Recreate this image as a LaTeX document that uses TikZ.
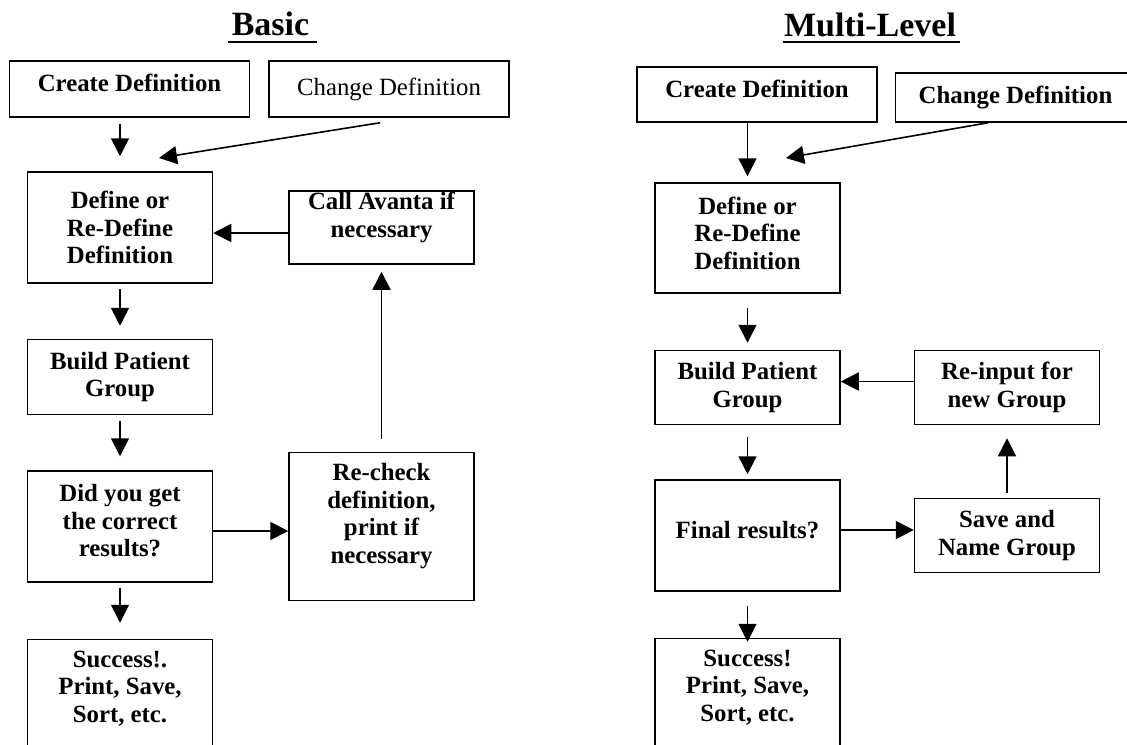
\documentclass[tikz,border=0pt]{standalone}
\usepackage{fontspec}
\setmainfont{Liberation Serif}
\usetikzlibrary{arrows.meta,positioning}
\newcommand{\padb}[1]{\rule[-#1]{0pt}{#1}}

\begin{document}
\begin{tikzpicture}[x=0.5pt, y=-0.5pt,
  node distance=27.5pt and 37.5pt,
  every node/.style={font=\fontsize{12.4}{13.8}\selectfont\bfseries},
  topbox/.style={draw, line width=0.75pt, minimum width=120pt,
    minimum height=28pt, inner xsep=2pt, inner ysep=0pt, align=center},
  stepbox/.style={draw, line width=0.75pt, minimum width=92.5pt,
    inner xsep=2pt, inner ysep=0pt, align=center},
  ttl/.style={font=\fontsize{17}{20}\selectfont\bfseries, inner sep=0pt, anchor=base},
  arr/.style={-{Triangle[length=9pt,width=9pt]}, line width=0.8pt}]
\useasboundingbox (0,0) rectangle (1127,744);
\clip (0,0) rectangle (1127,744);

% titles
\node[ttl] (ttlB) at (270.5,35) {Basic};
\draw[line width=1pt] ([shift={(-3,7)}]ttlB.base west) -- ([shift={(7,7)}]ttlB.base east);
\node[ttl] (ttlM) at (870,36) {Multi-Level};
\draw[line width=1pt] ([shift={(-1,6)}]ttlM.base west) -- ([shift={(4,6)}]ttlM.base east);

% basic
\node[topbox] (crtB) at (129.5,89) {Create Definition\padb{6pt}};
\node[topbox, right=9pt of crtB, font=\fontsize{12.4}{13.8}\selectfont] (chgB) {Change Definition};
\node[stepbox, minimum height=55.5pt] (defB) at (120,227.5) {Define or\\Re-Define\\Definition};
\node[stepbox, minimum height=37.5pt, below=of defB] (bldB) {Build Patient\\Group};
\node[stepbox, minimum height=55.5pt, below=of bldB] (didB) {Did you get\\the correct\\results?\padb{6pt}};
\node[stepbox, minimum height=70pt, below=28pt of didB] (sucB) {Success!.\\Print, Save,\\Sort, etc.\padb{23pt}};
\node[stepbox, minimum height=36.5pt, right=of defB] (calB) {Call Avanta if\\necessary\padb{13pt}};
\node[stepbox, minimum height=74pt, right=of didB] (chkB) {Re-check\\definition,\\print if\\necessary\padb{13pt}};
\coordinate (mrgB) at (159,158);

\draw[arr, shorten <=3pt, shorten >=7.5pt] (defB.north |- crtB.south) -- (defB.north);
\draw[arr] ([shift={(-9,5)}]chgB.south) -- (mrgB);
\draw[arr] ([yshift=-2.75pt]calB.west) -- ([yshift=-2.75pt]defB.east);
\draw[arr, shorten <=2.5pt, shorten >=6.5pt] (defB) -- (bldB);
\draw[arr, shorten <=3pt, shorten >=7pt] (bldB) -- (didB);
\draw[arr, shorten <=2.5pt, shorten >=8pt] (didB) -- (sucB);
\draw[arr] ([yshift=-2.25pt]didB.east) -- ([yshift=-2.25pt]chkB.west);
\draw[arr, shorten <=6.5pt, shorten >=3.5pt] (chkB) -- (calB);

% multi-level
\node[topbox, minimum height=27.5pt] (crtR) at (757,94.5) {Create Definition\padb{5.5pt}};
\node[topbox, minimum height=24.5pt, right=8.5pt of crtR.south east, anchor=south west] (chgR) {Change Definition};
\node[stepbox, minimum height=55pt] (defR) at (747.5,238) {Define or\\Re-Define\\Definition\padb{5pt}};
\node[stepbox, minimum height=37pt, below=28pt of defR] (bldR) {Build Patient\\Group};
\node[stepbox, minimum height=55.5pt, below=27pt of bldR] (finR) {Final results?\padb{5.5pt}};
\node[stepbox, minimum height=70pt, below=23pt of finR] (sucR) {Success!\\Print, Save,\\Sort, etc.\padb{23pt}};
\node[stepbox, minimum height=37pt, right=36.5pt of bldR] (rinR) {Re-input for\\new Group};
\node[stepbox, minimum height=37pt, right=36.5pt of finR] (savR) {Save and\\Name Group};
\coordinate (mrgR) at (786,158);

\draw[arr, shorten >=3pt] (defR.north |- crtR.south) -- (defR.north);
\draw[arr] ([xshift=-13.75pt]chgR.south) -- (mrgR);
\draw[arr, shorten <=7pt, shorten >=3.5pt] (defR) -- (bldR);
\draw[arr, shorten <=6pt, shorten >=2.5pt] (bldR) -- (finR);
\draw[arr, shorten <=7pt, shorten >=-2pt] (finR) -- (sucR);
\draw[arr] ([yshift=3pt]rinR.west) -- ([yshift=3pt]bldR.east);
\draw[arr] ([yshift=2.75pt]finR.east) -- ([yshift=2.75pt]savR.west);
\draw[arr, shorten <=2.5pt, shorten >=6.5pt] (savR) -- (rinR);
\end{tikzpicture}
\end{document}
